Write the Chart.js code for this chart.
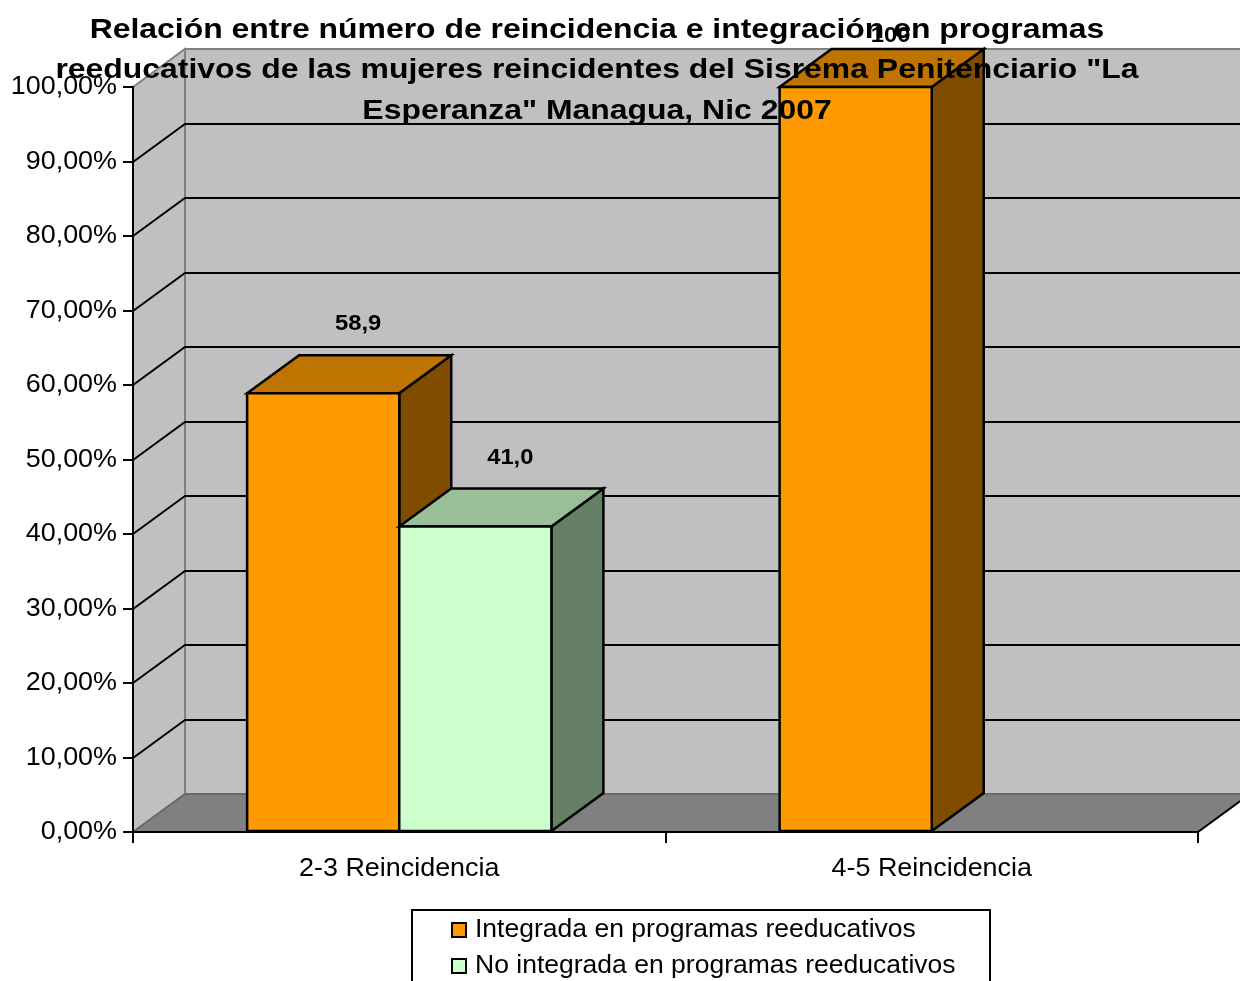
<!DOCTYPE html>
<html>
<head>
<meta charset="utf-8">
<script src="https://cdn.jsdelivr.net/npm/chart.js@4.4.1/dist/chart.umd.min.js"></script>
<style>
  html, body { margin: 0; padding: 0; background: #fff; }
  canvas { display: block; }
</style>
</head>
<body>
<canvas id="chart" width="1240" height="981"></canvas>
<script>
const categories = ['2-3 Reincidencia', '4-5 Reincidencia'];
const integrada = [58.9, 100];
const noIntegrada = [41.0, 0];
const seriesNames = ['Integrada en programas reeducativos', 'No integrada en programas reeducativos'];
const titleLines = [
  'Relación entre número de reincidencia e integración en programas',
  'reeducativos de las mujeres reincidentes del Sisrema Penitenciario "La',
  'Esperanza" Managua, Nic 2007'
];
const yMax = 100;
const yStep = 10;

// 3d look
const DX = 52, DY = -38;
const faces = [
  { front: '#FF9900', top: '#BF7300', side: '#804C00' },
  { front: '#CCFFCC', top: '#99BF99', side: '#668066' }
];
const FONT = '"Liberation Sans", Arial, sans-serif';
const SX = 1.035; // text in the original is a bit stretched sideways

function pctLabel(v) {
  return v.toFixed(2).replace('.', ',') + '%';
}
function valLabel(v) {
  return Number.isInteger(v) && v >= 100 ? String(v) : v.toFixed(1).replace('.', ',');
}

function txt(ctx, s, x, y, font, align, sx) {
  ctx.save();
  ctx.font = font;
  ctx.translate(x, y);
  ctx.scale(sx, 1);
  ctx.textAlign = align;
  ctx.textBaseline = 'middle';
  ctx.fillStyle = '#000';
  ctx.fillText(s, 0, 0);
  ctx.restore();
}

function poly(ctx, pts, fill, stroke, lw) {
  ctx.beginPath();
  ctx.moveTo(pts[0][0], pts[0][1]);
  for (let i = 1; i < pts.length; i++) ctx.lineTo(pts[i][0], pts[i][1]);
  ctx.closePath();
  if (fill) { ctx.fillStyle = fill; ctx.fill(); }
  if (stroke) { ctx.strokeStyle = stroke; ctx.lineWidth = lw || 1; ctx.stroke(); }
}

const walls3d = {
  id: 'walls3d',
  beforeDraw(chart) {
    const ctx = chart.ctx;
    const a = chart.chartArea;
    const y = chart.scales.y;
    ctx.save();
    ctx.fillStyle = '#fff';
    ctx.fillRect(0, 0, chart.width, chart.height);
    ctx.lineJoin = 'miter';
    // back wall
    poly(ctx, [[a.left + DX, a.top + DY], [a.right + DX, a.top + DY], [a.right + DX, a.bottom + DY], [a.left + DX, a.bottom + DY]], '#C0C0C0', '#808080', 2);
    // left wall
    poly(ctx, [[a.left, a.top], [a.left + DX, a.top + DY], [a.left + DX, a.bottom + DY], [a.left, a.bottom]], '#C0C0C0', '#808080', 2);
    // floor
    poly(ctx, [[a.left, a.bottom], [a.left + DX, a.bottom + DY], [a.right + DX, a.bottom + DY], [a.right, a.bottom]], '#808080', null);
    ctx.strokeStyle = '#6a6a6a';
    ctx.lineWidth = 2;
    ctx.beginPath();
    ctx.moveTo(a.left + DX, a.bottom + DY);
    ctx.lineTo(a.right + DX, a.bottom + DY);
    ctx.moveTo(a.left, a.bottom);
    ctx.lineTo(a.left + DX, a.bottom + DY);
    ctx.stroke();
    // grid lines on walls
    ctx.strokeStyle = '#000';
    ctx.lineWidth = 2;
    ctx.beginPath();
    y.ticks.forEach(t => {
      if (t.value <= 0 || t.value >= yMax) return;
      const py = Math.round(y.getPixelForValue(t.value));
      ctx.moveTo(a.left, py);
      ctx.lineTo(a.left + DX, py + DY);
      ctx.lineTo(a.right + DX, py + DY);
    });
    ctx.stroke();
    // right floor edge
    ctx.beginPath();
    ctx.moveTo(a.right, a.bottom);
    ctx.lineTo(a.right + DX, a.bottom + DY);
    ctx.stroke();
    ctx.restore();
  },
  afterDatasetsDraw(chart) {
    const ctx = chart.ctx;
    const bars = [];
    chart.data.datasets.forEach((ds, di) => {
      chart.getDatasetMeta(di).data.forEach((el, i) => {
        bars.push({ el, di, v: ds.data[i] });
      });
    });
    bars.sort((p, q) => p.el.x - q.el.x);
    ctx.save();
    ctx.lineJoin = 'miter';
    bars.forEach(b => {
      if (!b.v) return;
      const p = b.el.getProps(['x', 'y', 'base', 'width'], true);
      const l = p.x - p.width / 2, r = p.x + p.width / 2, t = p.y, btm = p.base;
      const f = faces[b.di];
      poly(ctx, [[r, t], [r + DX, t + DY], [r + DX, btm + DY], [r, btm]], f.side, '#000', 2.5);
      poly(ctx, [[l, t], [l + DX, t + DY], [r + DX, t + DY], [r, t]], f.top, '#000', 2.5);
      poly(ctx, [[l, t], [r, t], [r, btm], [l, btm]], f.front, '#000', 2.5);
    });
    bars.forEach(b => {
      if (!b.v) return;
      const p = b.el.getProps(['x', 'y'], true);
      txt(ctx, valLabel(b.v), p.x + 35, Math.max(p.y - 69, 36), 'bold 22px ' + FONT, 'center', 1.08);
    });
    ctx.restore();
  },
  afterDraw(chart) {
    const ctx = chart.ctx;
    const a = chart.chartArea;
    const y = chart.scales.y, x = chart.scales.x;
    // axis labels
    y.ticks.forEach(t => {
      txt(ctx, pctLabel(t.value), a.left - 16, y.getPixelForValue(t.value), '26px ' + FONT, 'right', SX);
    });
    categories.forEach((c, i) => {
      txt(ctx, c, x.getPixelForValue(i), a.bottom + 37, '26px ' + FONT, 'center', SX);
    });
    // title
    titleLines.forEach((line, i) => {
      txt(ctx, line, 597, 30 + i * 40.5, 'bold 28px ' + FONT, 'center', 1.14);
    });
    // legend
    ctx.save();
    ctx.strokeStyle = '#000';
    ctx.lineWidth = 2;
    ctx.strokeRect(412, 910, 578, 90);
    chart.data.datasets.forEach((ds, i) => {
      const cy = 930 + i * 36;
      ctx.fillStyle = faces[i].front;
      ctx.fillRect(452, cy - 7, 14, 14);
      ctx.strokeRect(452, cy - 7, 14, 14);
      txt(ctx, ds.label, 475, cy, '26px ' + FONT, 'left', 1.02);
    });
    ctx.restore();
  }
};

new Chart(document.getElementById('chart'), {
  type: 'bar',
  data: {
    labels: categories,
    datasets: [
      { label: seriesNames[0], data: integrada, backgroundColor: faces[0].front, borderColor: '#000', borderWidth: 2 },
      { label: seriesNames[1], data: noIntegrada, backgroundColor: faces[1].front, borderColor: '#000', borderWidth: 2 }
    ]
  },
  options: {
    responsive: false,
    animation: false,
    devicePixelRatio: 1,
    categoryPercentage: 0.5714,
    barPercentage: 1,
    layout: { padding: { top: 87, right: 42, left: 0, bottom: 0 } },
    plugins: {
      legend: { display: false },
      title: { display: false },
      tooltip: { enabled: false }
    },
    scales: {
      y: {
        min: 0,
        max: yMax,
        ticks: { stepSize: yStep, display: false },
        grid: { drawOnChartArea: false, color: '#000', lineWidth: 2, tickLength: 10 },
        border: { color: '#000', width: 2 },
        afterFit(s) { s.width = 133; }
      },
      x: {
        ticks: { display: false },
        grid: { offset: true, drawOnChartArea: false, color: '#000', lineWidth: 2, tickLength: 11 },
        border: { color: '#000', width: 2 },
        afterFit(s) { s.height = 149; }
      }
    }
  },
  plugins: [walls3d]
});
</script>
</body>
</html>
